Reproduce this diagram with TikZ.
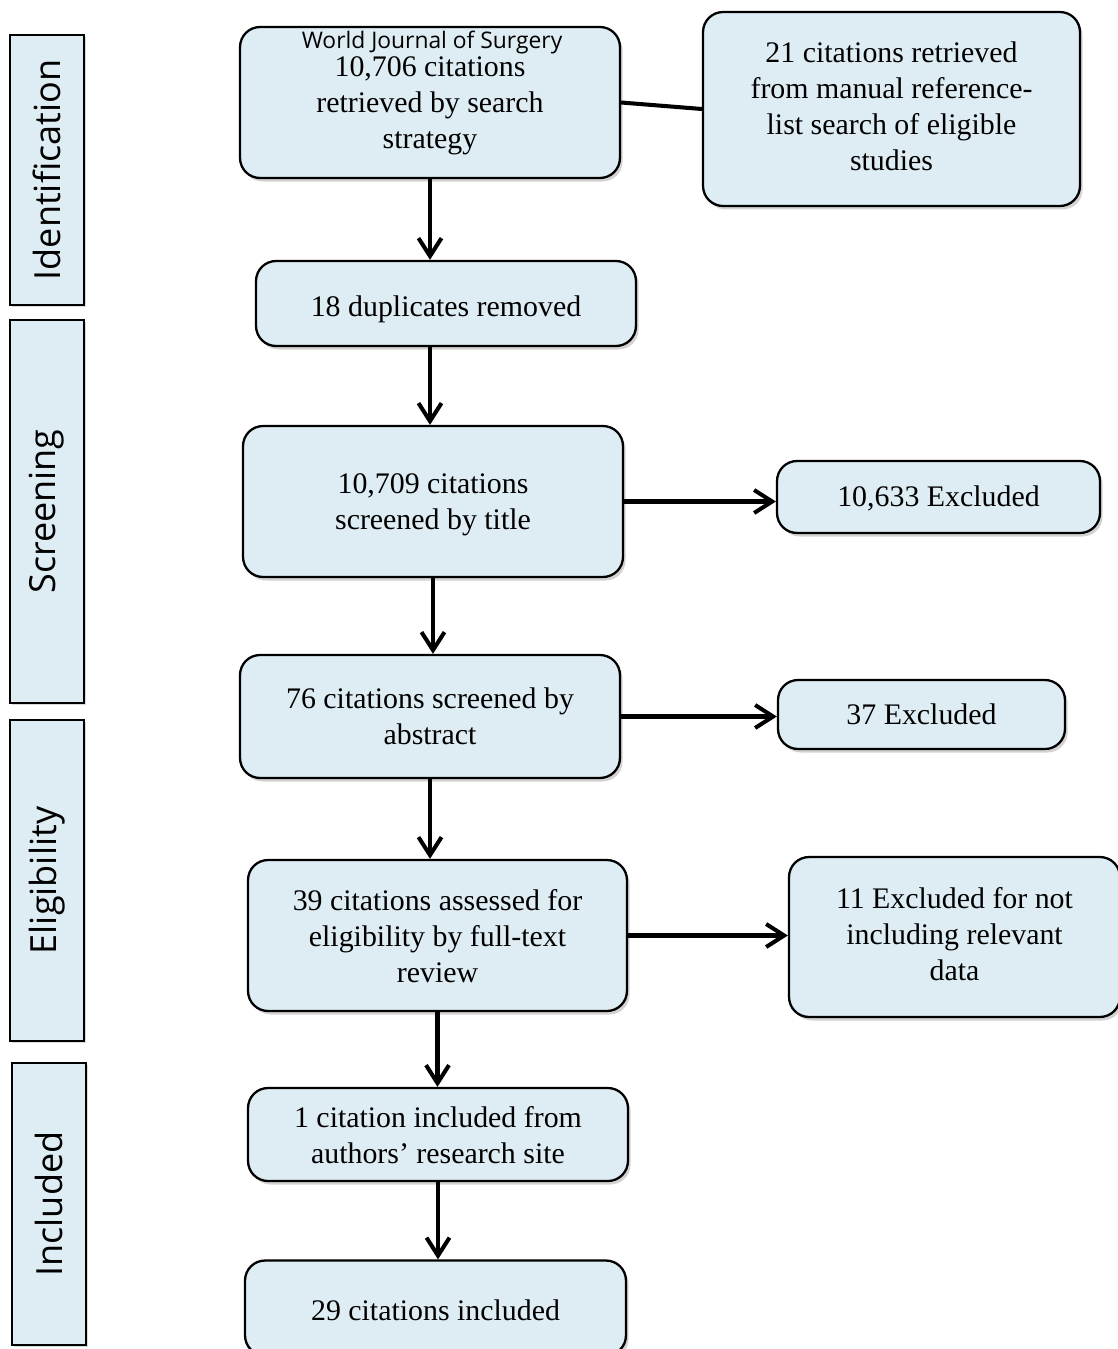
\documentclass[tikz,border=0pt]{standalone}
\usepackage{fontspec}
\setmainfont{Liberation Serif}
\setsansfont{Open Sans}
\usetikzlibrary{shadows, arrows.meta}
\definecolor{boxblue}{RGB}{222,237,243}

\tikzset{
    stage/.style={draw=black, line width=1.3pt, fill=boxblue, rounded corners=0.4cm,
        align=center, inner sep=0pt, font=\fontsize{17}{20.5}\selectfont,
        execute at begin node=\strut, text depth=3pt,
        drop shadow={opacity=0.35, shadow xshift=1.5pt, shadow yshift=-2pt}},
    mainstage/.style={stage, text depth=-5pt},
    phase/.style={draw=black, line width=0.8pt, fill=boxblue, rotate=90, inner sep=0pt,
        minimum height=1.48cm, font=\sffamily\fontsize{20.5}{24}\selectfont,
        drop shadow={opacity=0.3, shadow xshift=1pt, shadow yshift=-1pt}},
    flow/.style={line width=2.3pt, -{Straight Barb[length=0.36cm, width=0.46cm]}}
}

\begin{document}
\begin{tikzpicture}[x=0.02cm, y=-0.02cm]
    \useasboundingbox (0,0) rectangle (1118,1349);
    % =========================
    % phases
    \node[phase, minimum width=5.4cm]  (ident)  at (47,170)    {Identification};
    \node[phase, minimum width=7.66cm] (screen) at (47,511.5)  {Screening};
    \node[phase, minimum width=6.42cm] (elig)   at (47,880.5)  {Eligibility};
    \node[phase, minimum width=5.64cm] (incl)   at (49,1204)   {Included};

    % ===============================
    % main column
    \node[mainstage, text depth=0pt, minimum width=7.6cm, minimum height=3.02cm] (search) at (430,102.5)
        {10,706 citations\\retrieved by search\\strategy};
    \node[font=\sffamily\fontsize{13}{15}\selectfont, inner sep=0pt] (journal) at (432,43)
        {World Journal of Surgery};
    \node[mainstage, minimum width=7.6cm, minimum height=1.7cm] (dup) at (446,303.5)
        {18 duplicates removed};
    \node[mainstage, minimum width=7.6cm, minimum height=3.02cm] (title) at (433,501.5)
        {10,709 citations\\screened by title};
    \node[mainstage, minimum width=7.6cm, minimum height=2.46cm] (abstr) at (430,716.5)
        {76 citations screened by\\abstract};
    \node[mainstage, minimum width=7.58cm, minimum height=3.02cm] (full) at (437.5,935.5)
        {39 citations assessed for\\eligibility by full-text\\review};
    \node[mainstage, minimum width=7.6cm, minimum height=1.86cm] (site) at (438,1134.5)
        {1 citation included from\\authors’ research site};
    \node[mainstage, minimum width=7.62cm, minimum height=1.9cm] (final) at (435.5,1308)
        {29 citations included};

    % ===============================
    % side boxes
    \node[stage, minimum width=7.54cm, minimum height=3.88cm] (manual) at (891.5,109)
        {21 citations retrieved\\from manual reference-\\list search of eligible\\studies};
    \node[stage, minimum width=6.46cm, minimum height=1.44cm] (exa) at (938.5,497)
        {10,633 Excluded};
    \node[stage, minimum width=5.74cm, minimum height=1.38cm] (exb) at (921.5,714.5)
        {37 Excluded};
    \node[stage, minimum width=6.62cm, minimum height=3.2cm] (exc) at (954.5,937)
        {11 Excluded for not\\including relevant\\data};

    % ===============================
    \draw[line width=2.3pt] (search.east) -- (manual.west);
    \draw[flow] (search.south) -- (search.south |- dup.north);
    \draw[flow] (search.south |- dup.south) -- (search.south |- title.north);
    \draw[flow] (title.south) -- (title.south |- abstr.north);
    \draw[flow] (abstr.south) -- (abstr.south |- full.north);
    \draw[flow] (full.south) -- (full.south |- site.north);
    \draw[flow] (site.south) -- (site.south |- final.north);

    \draw[flow] (title.east) -- (title.east -| exa.west);
    \draw[flow] (abstr.east) -- (abstr.east -| exb.west);
    \draw[flow] (full.east) -- (full.east -| exc.west);
\end{tikzpicture}
\end{document}
